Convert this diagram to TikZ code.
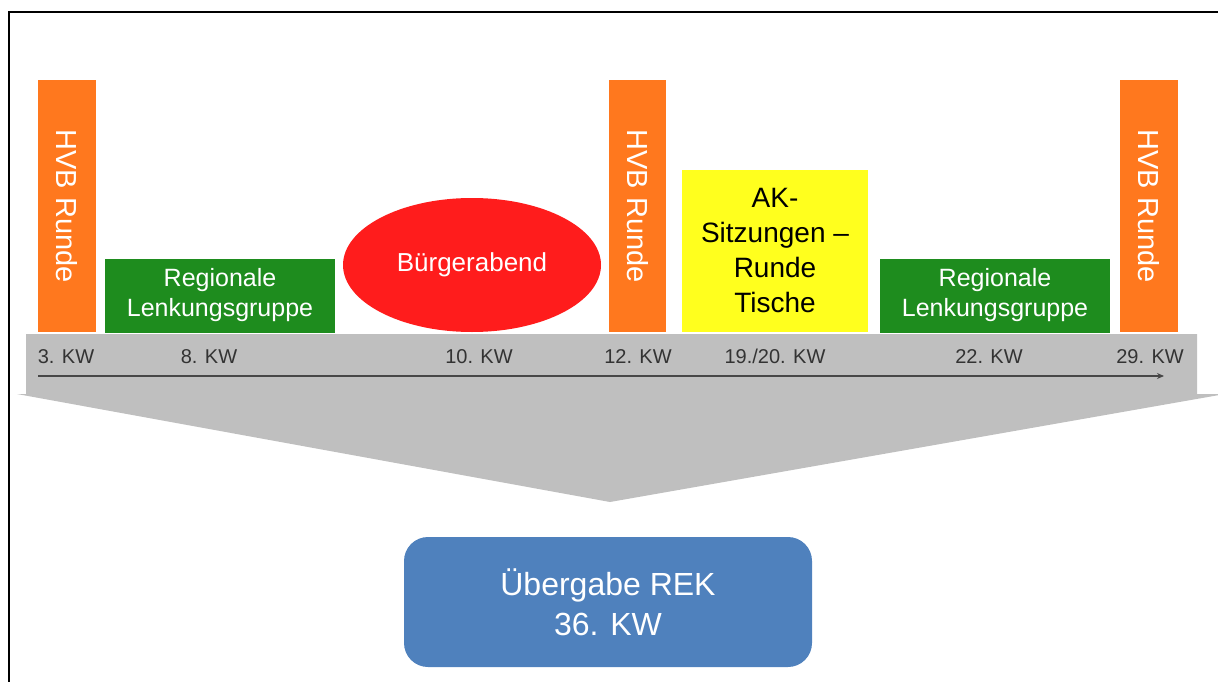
\documentclass[tikz,border=0pt]{standalone}
\usepackage{fontspec}
\setmainfont{Liberation Sans}
\usetikzlibrary{shapes.geometric,arrows.meta}
\definecolor{hvborange}{HTML}{FF781E}
\definecolor{lenkgreen}{HTML}{1E8C1E}
\definecolor{abendred}{HTML}{FF1C1C}
\definecolor{akyellow}{HTML}{FFFF1E}
\definecolor{bandgray}{HTML}{BFBFBF}
\definecolor{rekblue}{HTML}{4F81BD}
\definecolor{kwtext}{HTML}{333333}
\begin{document}
\begin{tikzpicture}[x=1pt,y=-1pt,
	hvbbar/.style={fill=hvborange, rotate=-90, minimum width=252, minimum height=58, inner sep=0,
		text=white, font=\fontsize{29}{34}\selectfont},
	gruppe/.style={fill=lenkgreen, minimum width=230, minimum height=74, inner sep=0, align=center,
		text=white, font=\fontsize{25}{30}\selectfont},
	kwlabel/.style={anchor=base, text=kwtext, font=\fontsize{20}{24}\selectfont}]
	\useasboundingbox (0,0) rectangle (1218,682);
	% frame
	\draw[line width=2.7pt] (9,682) -- (9,12) -- (1218,12);
	% gray band with funnel
	\fill[bandgray] (26,334) -- (1197,334) -- (1197,394) -- (1225,394) -- (610,502) -- (17,394) -- (26,394) -- cycle;
	% events
	\node (HVB1) at (67, 206)	[hvbbar]	{HVB Runde};
	\node (HVB2) at (637.5, 206)	[hvbbar, minimum height=57]	{HVB Runde};
	\node (HVB3) at (1149, 206)	[hvbbar]	{HVB Runde};
	\node (RLG1) at (220, 295.5)	[gruppe]	{Regionale\\Lenkungsgruppe};
	\node (RLG2) at (995, 295.5)	[gruppe]	{Regionale\\Lenkungsgruppe};
	\node (BA) at (472, 265)	[ellipse, fill=abendred, minimum width=258, minimum height=134, inner sep=0,
		text=white, font=\fontsize{26}{30}\selectfont]	{Bürgerabend};
	\node (AK) at (775, 251)	[fill=akyellow, minimum width=186, minimum height=162, inner sep=0, align=center,
		font=\fontsize{28}{35}\selectfont]	{AK-\\Sitzungen –\\Runde\\Tische};
	% weeks
	\node (KW3) at (66, 363)	[kwlabel]	{3. KW};
	\node (KW8) at (209, 363)	[kwlabel]	{8. KW};
	\node (KW10) at (479, 363)	[kwlabel]	{10. KW};
	\node (KW12) at (638, 363)	[kwlabel]	{12. KW};
	\node (KW19) at (775, 363)	[kwlabel]	{19./20. KW};
	\node (KW22) at (989, 363)	[kwlabel]	{22. KW};
	\node (KW29) at (1150, 363)	[kwlabel]	{29. KW};
	\coordinate (T0) at (38, 376);
	\coordinate (T1) at (1164, 376);
	\draw[-{Stealth[length=7pt,width=6pt]}, draw=kwtext!90, line width=1.8pt] (T0) -- (T1);
	% result
	\node (REK) at (608, 602)	[fill=rekblue, rounded corners=24pt, minimum width=408, minimum height=130, inner sep=0,
		align=center, text=white, font=\fontsize{32}{40}\selectfont]	{Übergabe REK\\36. KW};
\end{tikzpicture}
\end{document}
